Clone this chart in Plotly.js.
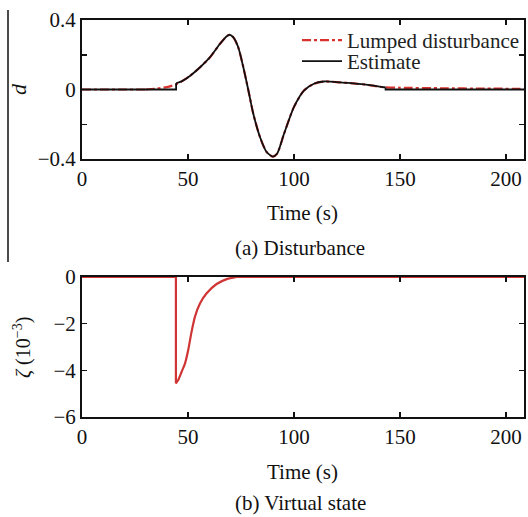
<!DOCTYPE html>
<html>
<head>
<meta charset="utf-8">
<script src="https://cdn.plot.ly/plotly-3.0.1.min.js"></script>
<style>html,body{margin:0;padding:0;background:#fff}#plot{width:528px;height:517px}</style>
</head>
<body>
<div id="plot"></div>
<script>
// (a) Disturbance: estimate — flat start, smooth middle, flat tail
var estStartT = [0, 44.4, 44.4];
var estStartD = [0, 0, 0.036];
var estMidT = [44.4, 47, 50.9, 55.7, 60.4, 65.1, 68.3, 69.8, 71.4, 73.7, 76.1, 78.5, 80.8, 84, 87.1, 90, 92, 95.3, 100, 104.7, 109.4, 114, 120, 125, 133, 142.5, 143.2];
var estMidD = [0.036, 0.047, 0.078, 0.128, 0.186, 0.263, 0.307, 0.315, 0.30, 0.243, 0.128, -0.006, -0.14, -0.275, -0.36, -0.386, -0.37, -0.255, -0.10, -0.006, 0.033, 0.046, 0.043, 0.038, 0.029, 0.013, 0.012];
var estEndT = [143.2, 143.2, 209];
var estEndD = [0.012, 0, 0];
// (a) Disturbance: lumped disturbance — flat start, smooth rest
var lumpStartT = [0, 30];
var lumpStartD = [0, 0];
var lumpT = [30, 35, 40, 44.4, 47, 50.9, 55.7, 60.4, 65.1, 68.3, 69.8, 71.4, 73.7, 76.1, 78.5, 80.8, 84, 87.1, 90, 92, 95.3, 100, 104.7, 109.4, 114, 120, 125, 133, 142.5, 150, 170, 190, 209];
var lumpD = [0, 0.005, 0.014, 0.03, 0.047, 0.078, 0.128, 0.186, 0.263, 0.307, 0.315, 0.30, 0.243, 0.128, -0.006, -0.14, -0.275, -0.36, -0.386, -0.37, -0.255, -0.10, -0.006, 0.033, 0.046, 0.043, 0.038, 0.029, 0.013, 0.01, 0.007, 0.005, 0.004];
// (b) Virtual state (x 10^-3) — flat start with drop, smooth recovery, flat tail
var zetaStartT = [0, 44.3, 44.3];
var zetaStart = [0, 0, -4.56];
var zetaT = [44.3, 45.4, 47, 48.6, 50.1, 51.7, 53.3, 55.7, 58.8, 63.5, 68.3, 73];
var zeta = [-4.56, -4.41, -4.06, -3.70, -3.13, -2.34, -1.70, -1.13, -0.70, -0.30, -0.09, 0];
var zetaEndT = [73, 209];
var zetaEnd = [0, 0];
// tick labels
var xTicks = [0, 50, 100, 150, 200];
var dTicks = [-0.4, 0, 0.4];
var dTickText = ['\u22120.4', '0', '0.4'];
var zTicks = [-6, -4, -2, 0];
var zTickText = ['\u22126', '\u22124', '\u22122', '0'];

var F = 'Liberation Serif, Times New Roman, serif';
var W = 528, H = 517;
function px(x) { return x / W; }
function py(y) { return 1 - y / H; }

var redD = {color: '#d8322e', width: 2.2, dash: 'dashdot'};
var blk = {color: '#111111', width: 1.8};
var redZ = {color: '#d03535', width: 2.2};
function L(base, extra) { return Object.assign({}, base, extra || {}); }

var traces = [
  {x: lumpStartT, y: lumpStartD, xaxis: 'x', yaxis: 'y', mode: 'lines', legendgroup: 'lump', showlegend: false,
   line: L(redD)},
  {x: lumpT, y: lumpD, xaxis: 'x', yaxis: 'y', mode: 'lines', name: 'Lumped disturbance', legendgroup: 'lump',
   legend: 'legend', line: L(redD, {shape: 'spline', smoothing: 0.7})},
  {x: estStartT, y: estStartD, xaxis: 'x', yaxis: 'y', mode: 'lines', legendgroup: 'est', showlegend: false,
   line: L(blk)},
  {x: estMidT, y: estMidD, xaxis: 'x', yaxis: 'y', mode: 'lines', name: 'Estimate', legendgroup: 'est',
   legend: 'legend2', line: L(blk, {shape: 'spline', smoothing: 0.7})},
  {x: estEndT, y: estEndD, xaxis: 'x', yaxis: 'y', mode: 'lines', legendgroup: 'est', showlegend: false,
   line: L(blk)},
  {x: zetaStartT, y: zetaStart, xaxis: 'x2', yaxis: 'y2', mode: 'lines', showlegend: false, line: L(redZ)},
  {x: zetaT, y: zeta, xaxis: 'x2', yaxis: 'y2', mode: 'lines', showlegend: false,
   line: L(redZ, {shape: 'spline', smoothing: 0.6})},
  {x: zetaEndT, y: zetaEnd, xaxis: 'x2', yaxis: 'y2', mode: 'lines', showlegend: false, line: L(redZ)}
];

var axBase = {
  showgrid: false, zeroline: false, showline: true, linecolor: '#111', linewidth: 2,
  mirror: 'ticks', ticks: 'inside', ticklen: 5, tickwidth: 1.5, tickcolor: '#111',
  tickfont: {family: F, size: 21, color: '#111'}
};
function ax(o) { return Object.assign({}, axBase, o); }

var legFont = {family: F, size: 21, color: '#222'};
var layout = {
  width: W, height: H,
  margin: {l: 0, r: 0, t: 0, b: 0},
  paper_bgcolor: '#fff', plot_bgcolor: '#fff',
  showlegend: true,
  legend: {x: px(297), y: py(20), xanchor: 'left', yanchor: 'top', font: legFont,
           bgcolor: 'rgba(0,0,0,0)', itemwidth: 40},
  legend2: {x: px(297), y: py(41), xanchor: 'left', yanchor: 'top', font: legFont,
            bgcolor: 'rgba(0,0,0,0)', itemwidth: 40},
  xaxis: ax({domain: [px(82), px(524)], range: [0, 208.5], tickvals: xTicks, anchor: 'y'}),
  yaxis: ax({domain: [py(159), py(20)], range: [-0.4, 0.4], tickvals: dTicks, ticktext: dTickText, anchor: 'x',
             minor: {tickvals: [-0.2, 0.2], ticks: 'inside', ticklen: 5, tickwidth: 1.5, tickcolor: '#111'}}),
  xaxis2: ax({domain: [px(82), px(524)], range: [0, 208.5], tickvals: xTicks, anchor: 'y2'}),
  yaxis2: ax({domain: [py(417), py(277)], range: [-6, 0], tickvals: zTicks, ticktext: zTickText, anchor: 'x2', layer: 'below traces'}),
  annotations: [
    {text: 'Time (s)', x: px(302), y: py(213), xref: 'paper', yref: 'paper', showarrow: false,
     xanchor: 'center', yanchor: 'middle', font: {family: F, size: 21, color: '#111'}},
    {text: '(a) Disturbance', x: px(300), y: py(248), xref: 'paper', yref: 'paper', showarrow: false,
     xanchor: 'center', yanchor: 'middle', font: {family: F, size: 21, color: '#111'}},
    {text: 'Time (s)', x: px(302), y: py(472), xref: 'paper', yref: 'paper', showarrow: false,
     xanchor: 'center', yanchor: 'middle', font: {family: F, size: 21, color: '#111'}},
    {text: '(b) Virtual state', x: px(300), y: py(503), xref: 'paper', yref: 'paper', showarrow: false,
     xanchor: 'center', yanchor: 'middle', font: {family: F, size: 21, color: '#111'}},
    {text: '<i>d</i>', x: px(19), y: py(89), xref: 'paper', yref: 'paper', showarrow: false, textangle: -90,
     xanchor: 'center', yanchor: 'middle', font: {family: F, size: 22, color: '#111'}},
    {text: '<i>\u03b6</i> (10<sup>\u22123</sup>)', x: px(22), y: py(348), xref: 'paper', yref: 'paper', showarrow: false, textangle: -90,
     xanchor: 'center', yanchor: 'middle', font: {family: F, size: 20, color: '#111'}}
  ],
  shapes: [
    {type: 'line', xref: 'paper', yref: 'paper', x0: px(8), x1: px(8), y0: py(10), y1: py(262),
     line: {color: '#111', width: 1.5}}
  ]
};

Plotly.newPlot('plot', traces, layout, {staticPlot: true, displayModeBar: false});
</script>
</body>
</html>
